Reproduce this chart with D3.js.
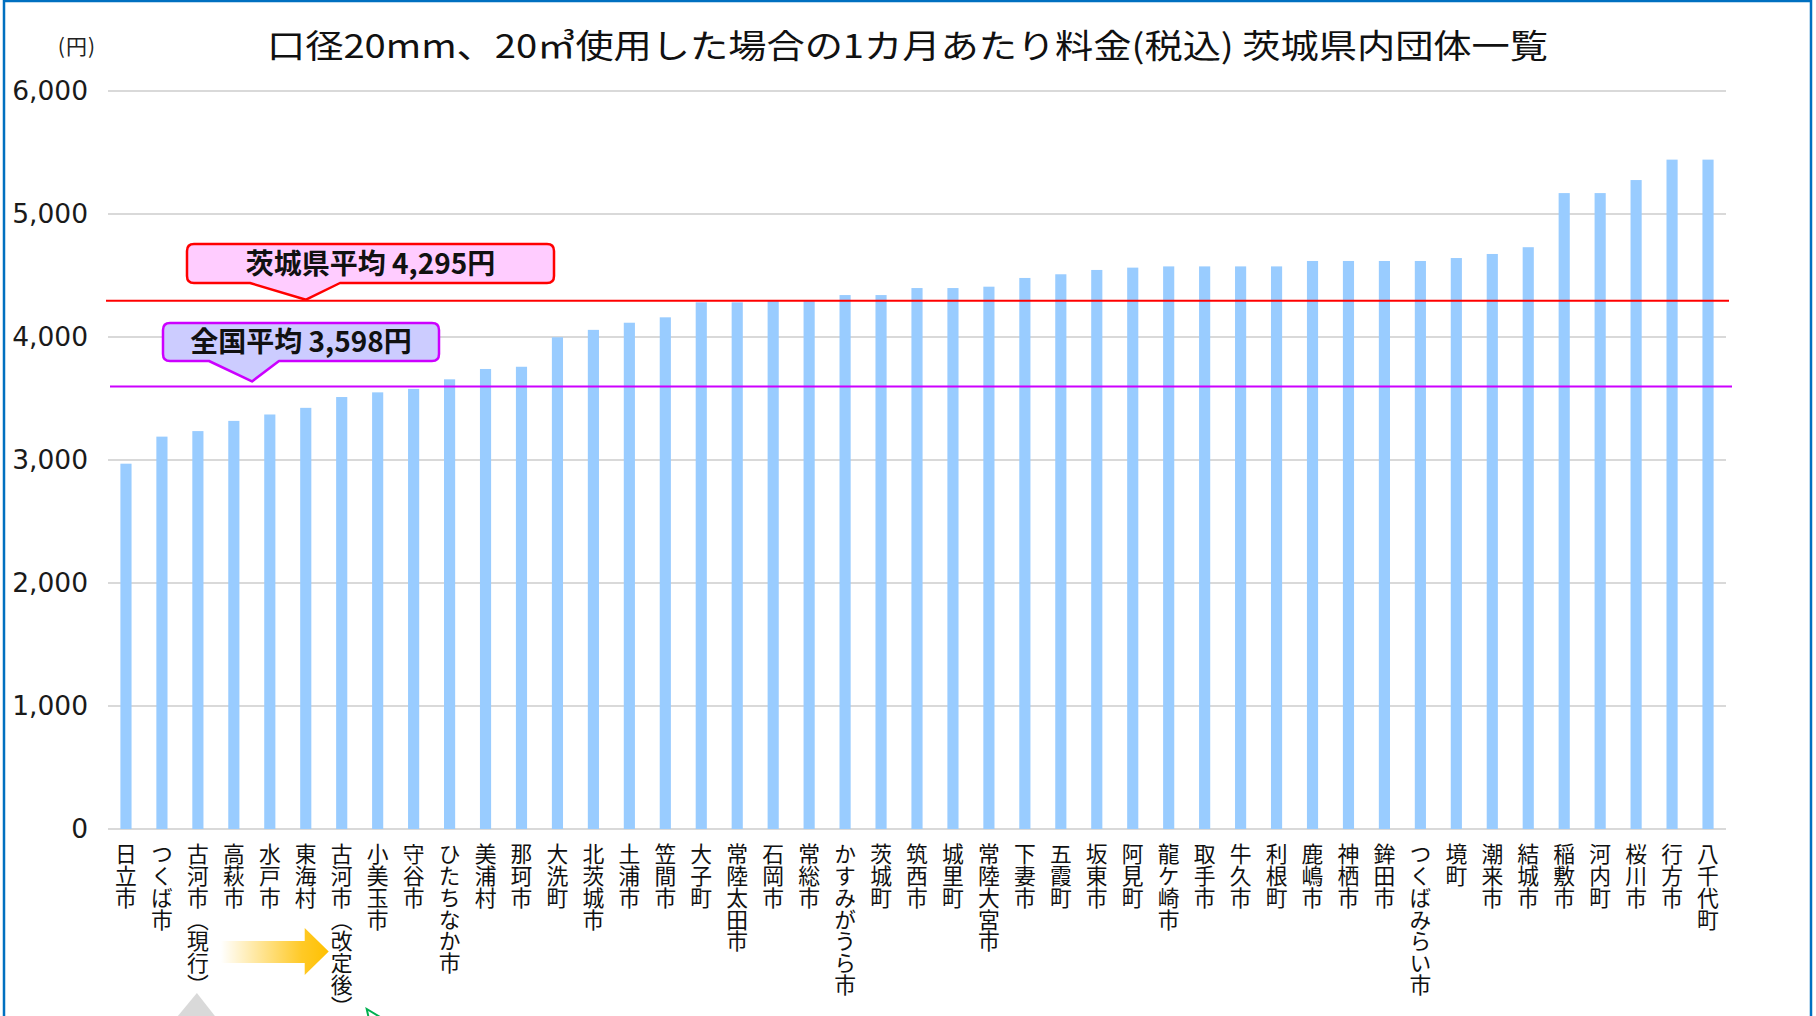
<!DOCTYPE html>
<html lang="ja">
<head>
<meta charset="utf-8">
<script src="https://cdn.jsdelivr.net/npm/d3@7"></script>
<style>
  html, body { margin: 0; padding: 0; background: #fff; }
  svg { display: block; }
  .xlab { writing-mode: vertical-rl; }
</style>
</head>
<body>
<svg id="chart" width="1816" height="1016"></svg>
<script>
// 口径20mm・20㎥使用時の月額料金（税込）
const categories = [
  "日立市", "つくば市", "古河市（現行）", "高萩市", "水戸市", "東海村", "古河市（改定後）",
  "小美玉市", "守谷市", "ひたちなか市", "美浦村", "那珂市", "大洗町", "北茨城市",
  "土浦市", "笠間市", "大子町", "常陸太田市", "石岡市", "常総市", "かすみがうら市",
  "茨城町", "筑西市", "城里町", "常陸大宮市", "下妻市", "五霞町", "坂東市", "阿見町",
  "龍ケ崎市", "取手市", "牛久市", "利根町", "鹿嶋市", "神栖市", "鉾田市",
  "つくばみらい市", "境町", "潮来市", "結城市", "稲敷市", "河内町", "桜川市",
  "行方市", "八千代町"
];
const fees = [
  2970, 3190, 3235, 3318, 3370, 3424, 3512,
  3550, 3578, 3656, 3740, 3758, 3998, 4058,
  4116, 4160, 4282, 4282, 4298, 4298, 4341,
  4341, 4398, 4398, 4409, 4480, 4510, 4545, 4564,
  4574, 4574, 4574, 4574, 4618, 4618, 4618,
  4618, 4642, 4675, 4730, 5170, 5170, 5276,
  5442, 5442
];
const yTicks = [0, 1000, 2000, 3000, 4000, 5000, 6000];
const prefAverage = 4295;   // 茨城県平均
const nationalAverage = 3598; // 全国平均

const svg = d3.select("#chart");
const W = 1816, H = 1016;
const plot = { left: 108, right: 1726, top: 91, bottom: 829 };

const x = d3.scaleBand()
  .domain(categories)
  .range([plot.left, plot.right])
  .paddingInner(0.69)
  .paddingOuter(0.345);

const y = d3.scaleLinear()
  .domain([0, 6000])
  .range([plot.bottom, plot.top]);

// frame
svg.append("path")
  .attr("d", `M4,${H} L4,1 L1811,1 L1811,${H}`)
  .attr("fill", "none")
  .attr("stroke", "#0070c0")
  .attr("stroke-width", 2.5);

// gridlines
svg.append("g")
  .selectAll("line")
  .data(yTicks)
  .join("line")
  .attr("x1", plot.left)
  .attr("x2", plot.right)
  .attr("y1", d => y(d))
  .attr("y2", d => y(d))
  .attr("stroke", "#d9d9d9")
  .attr("stroke-width", 2);

// y axis labels
const yAxis = d3.axisLeft(y)
  .tickValues(yTicks)
  .tickFormat(d3.format(","))
  .tickSize(0)
  .tickPadding(0);
const yg = svg.append("g")
  .attr("transform", `translate(88,0)`)
  .call(yAxis);
yg.select(".domain").remove();
yg.selectAll("text")
  .attr("font-family", "'DejaVu Sans', sans-serif")
  .attr("font-size", 26.5)
  .attr("fill", "#1a1a1a");

svg.append("text")
  .attr("x", 96)
  .attr("y", 54)
  .attr("text-anchor", "end")
  .attr("font-family", "'Noto Sans CJK JP', sans-serif")
  .attr("font-size", 21)
  .attr("letter-spacing", 1)
  .attr("fill", "#222")
  .text("(円)");

// title
svg.append("text")
  .attr("x", 267)
  .attr("y", 58)
  .attr("font-family", "'Noto Sans CJK JP', sans-serif")
  .attr("font-size", 33)
  .attr("textLength", 1281)
  .attr("lengthAdjust", "spacingAndGlyphs")
  .attr("fill", "#111")
  .text("口径20mm、20㎥使用した場合の1カ月あたり料金(税込) 茨城県内団体一覧");

// bars
svg.append("g")
  .selectAll("rect")
  .data(categories.map((c, i) => ({ c, v: fees[i] })))
  .join("rect")
  .attr("x", d => x(d.c))
  .attr("width", x.bandwidth())
  .attr("y", d => y(d.v))
  .attr("height", d => y(0) - y(d.v))
  .attr("fill", "#99ccff");

// average lines
svg.append("line")
  .attr("x1", 106).attr("x2", 1729)
  .attr("y1", y(prefAverage)).attr("y2", y(prefAverage))
  .attr("stroke", "#ff0000").attr("stroke-width", 2);
svg.append("line")
  .attr("x1", 110).attr("x2", 1732)
  .attr("y1", y(nationalAverage)).attr("y2", y(nationalAverage))
  .attr("stroke", "#cc00ff").attr("stroke-width", 2);

// callout: rounded box with a pointer on its bottom edge
function callout(box, fill, stroke, label) {
  const { x0, x1, y0, y1, p0, p1, tx, ty } = box;
  const r = 7;
  const d = [
    `M${x0 + r},${y0}`,
    `L${x1 - r},${y0}`, `Q${x1},${y0} ${x1},${y0 + r}`,
    `L${x1},${y1 - r}`, `Q${x1},${y1} ${x1 - r},${y1}`,
    `L${p1},${y1}`, `L${tx},${ty}`, `L${p0},${y1}`,
    `L${x0 + r},${y1}`, `Q${x0},${y1} ${x0},${y1 - r}`,
    `L${x0},${y0 + r}`, `Q${x0},${y0} ${x0 + r},${y0}`, "Z"
  ].join(" ");
  svg.append("path")
    .attr("d", d)
    .attr("fill", fill)
    .attr("stroke", stroke)
    .attr("stroke-width", 2.5)
    .attr("stroke-linejoin", "round");
  svg.append("text")
    .attr("x", (x0 + x1) / 2)
    .attr("y", (y0 + y1) / 2 + 10)
    .attr("text-anchor", "middle")
    .attr("font-family", "'Noto Sans CJK JP', sans-serif")
    .attr("font-weight", "bold")
    .attr("font-size", 28)
    .attr("fill", "#111")
    .text(label);
}

callout({ x0: 187, x1: 554, y0: 244, y1: 283, p0: 250, p1: 340, tx: 306, ty: y(prefAverage) - 1 },
  "#ffccff", "#ff0000", "茨城県平均 " + d3.format(",")(prefAverage) + "円");
callout({ x0: 163, x1: 439, y0: 323, y1: 361, p0: 209, p1: 279, tx: 252, ty: y(nationalAverage) - 5 },
  "#ccccff", "#cc00ff", "全国平均 " + d3.format(",")(nationalAverage) + "円");

// category labels, written vertically
svg.append("g")
  .selectAll("text")
  .data(categories)
  .join("text")
  .attr("class", "xlab")
  .attr("x", d => x(d) + x.bandwidth() / 2)
  .attr("y", 843)
  .attr("font-family", "'Noto Sans CJK JP', sans-serif")
  .attr("font-size", 21.8)
  .attr("fill", "#111")
  .text(d => d);

// arrow from the current Koga rate to the revised one
const grad = svg.append("defs").append("linearGradient")
  .attr("id", "arrowGrad")
  .attr("x1", "0%").attr("x2", "100%");
grad.append("stop").attr("offset", "0%").attr("stop-color", "#ffc000").attr("stop-opacity", 0);
grad.append("stop").attr("offset", "75%").attr("stop-color", "#ffc000").attr("stop-opacity", 0.85);
grad.append("stop").attr("offset", "100%").attr("stop-color", "#ffc000").attr("stop-opacity", 1);

const kCur = x("古河市（現行）") + x.bandwidth() / 2;
const kNew = x("古河市（改定後）") + x.bandwidth() / 2;
svg.append("path")
  .attr("d", `M${kCur + 23},941 L${kNew - 37},941 L${kNew - 37},928 L${kNew - 13},951.5 L${kNew - 37},975 L${kNew - 37},963 L${kCur + 23},963 Z`)
  .attr("fill", "url(#arrowGrad)");

// pointer marks below the two Koga labels
svg.append("path")
  .attr("d", `M${kCur - 1},993 L${kCur + 17},1016 L${kCur - 20},1016 Z`)
  .attr("fill", "#d9d9d9");
svg.append("path")
  .attr("d", `M${kNew + 27},1018 L${kNew + 25},1009 L${kNew + 40},1018`)
  .attr("fill", "#fff")
  .attr("stroke", "#00b050")
  .attr("stroke-width", 2);
</script>
</body>
</html>
